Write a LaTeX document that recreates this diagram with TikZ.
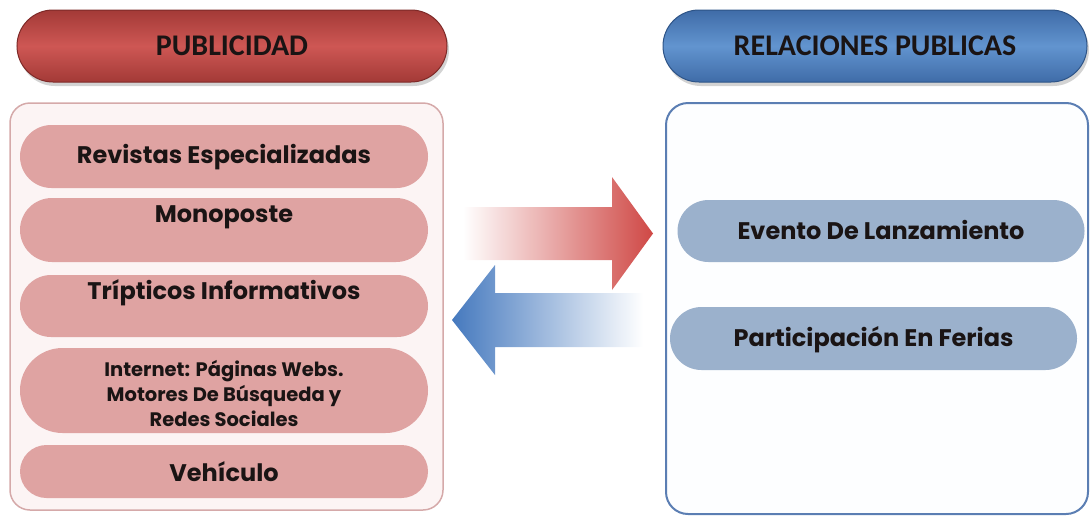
\documentclass[tikz,border=0pt]{standalone}
\usepackage{fontspec}
\setmainfont{Poppins}
\newfontfamily\titlefont{Carlito}
\usetikzlibrary{shapes.misc,shadows}
\definecolor{pubdark}{HTML}{A33A37}
\definecolor{pubmid}{HTML}{CE5754}
\definecolor{publine}{HTML}{7E2A28}
\definecolor{reldark}{HTML}{3F6CA8}
\definecolor{relmid}{HTML}{6294CF}
\definecolor{relline}{HTML}{2E5487}
\definecolor{itemred}{HTML}{DFA3A2}
\definecolor{itemblue}{HTML}{9BB1CC}
\definecolor{boxred}{HTML}{D5A9A9}
\definecolor{boxredfill}{HTML}{FCF4F4}
\definecolor{boxblue}{HTML}{5B7EB3}
\definecolor{boxbluefill}{HTML}{FDFEFF}
\definecolor{arrred}{HTML}{CF4845}
\definecolor{arrblue}{HTML}{4579BE}
\definecolor{txtdark}{HTML}{1A1414}
\tikzset{
  titlebox/.style={rounded rectangle, inner sep=0pt, line width=1pt,
    drop shadow={shadow xshift=2pt, shadow yshift=-4pt, opacity=0.35}},
  pubtitle/.style={titlebox, draw=publine, top color=pubdark, bottom color=pubdark, middle color=pubmid},
  reltitle/.style={titlebox, draw=relline, top color=reldark, bottom color=reldark, middle color=relmid},
  titletext/.style={font=\titlefont\fontsize{30}{33}\selectfont\bfseries, text=txtdark},
  itembox/.style={rounded rectangle, inner sep=0pt, draw=none},
  itemL/.style={itembox, fill=itemred, minimum width=408pt},
  itemR/.style={itembox, fill=itemblue, minimum width=407pt},
  itemtext/.style={font=\fontsize{24}{28}\selectfont\bfseries, text=txtdark, inner sep=0pt},
  smalltext/.style={font=\fontsize{19.5}{25}\selectfont\bfseries, text=txtdark, inner sep=0pt, align=center},
}
\begin{document}
\begin{tikzpicture}[x=1pt,y=-1pt]
\useasboundingbox (0,0) rectangle (1091,517);
% containers
\draw[draw=boxred, fill=boxredfill, line width=1.5pt, rounded corners=20pt] (10,103) rectangle (443,510);
\draw[draw=boxblue, fill=boxbluefill, line width=2pt, rounded corners=22pt] (666,103) rectangle (1088,514);
% titles
\node[pubtitle, minimum width=430pt, minimum height=72pt] (pub) at (232,46) {};
\node[titletext] (pubt) at (pub.center) {PUBLICIDAD};
\node[reltitle, minimum width=424pt, minimum height=72pt] (rel) at (875,46) {};
\node[titletext] (relt) at (rel.center) {RELACIONES PUBLICAS};
% left items
\node[itemL, minimum height=63pt] (revistas) at (224,156.5) {};
\node[itemtext] (revistast) at (224,157) {Revistas Especializadas};
\node[itemL, minimum height=64pt] (mono) at (224,230) {};
\node[itemtext] (monot) at (224,217) {Monoposte};
\node[itemL, minimum height=62pt] (trip) at (224,306) {};
\node[itemtext] (tript) at (224,293) {Trípticos Informativos};
\node[itemL, minimum height=85pt] (internet) at (224,390.5) {};
\node[smalltext] (internett) at (224,393) {Internet: Páginas Webs.\\Motores De Búsqueda y\\Redes Sociales};
\node[itemL, minimum height=53pt] (vehiculo) at (224,471.5) {};
\node[itemtext] (vehiculot) at (224,472) {Vehículo};
% right items
\node[itemR, minimum height=62pt] (evento) at (881,231) {};
\node[itemtext] (eventot) at (881,230) {Evento De Lanzamiento};
\node[itemR, minimum height=63pt] (feria) at (873.5,338.5) {};
\node[itemtext] (feriat) at (873.5,340) {Participación En Ferias};
% arrows
\shade[left color=white, right color=arrred]
  (463,207) -- (612,207) -- (612,177) -- (653,233.5) -- (612,290) -- (612,260) -- (463,260) -- cycle;
\shade[left color=arrblue, right color=white]
  (643,293) -- (495,293) -- (495,265) -- (452,320) -- (495,375) -- (495,347) -- (643,347) -- cycle;
\end{tikzpicture}
\end{document}
